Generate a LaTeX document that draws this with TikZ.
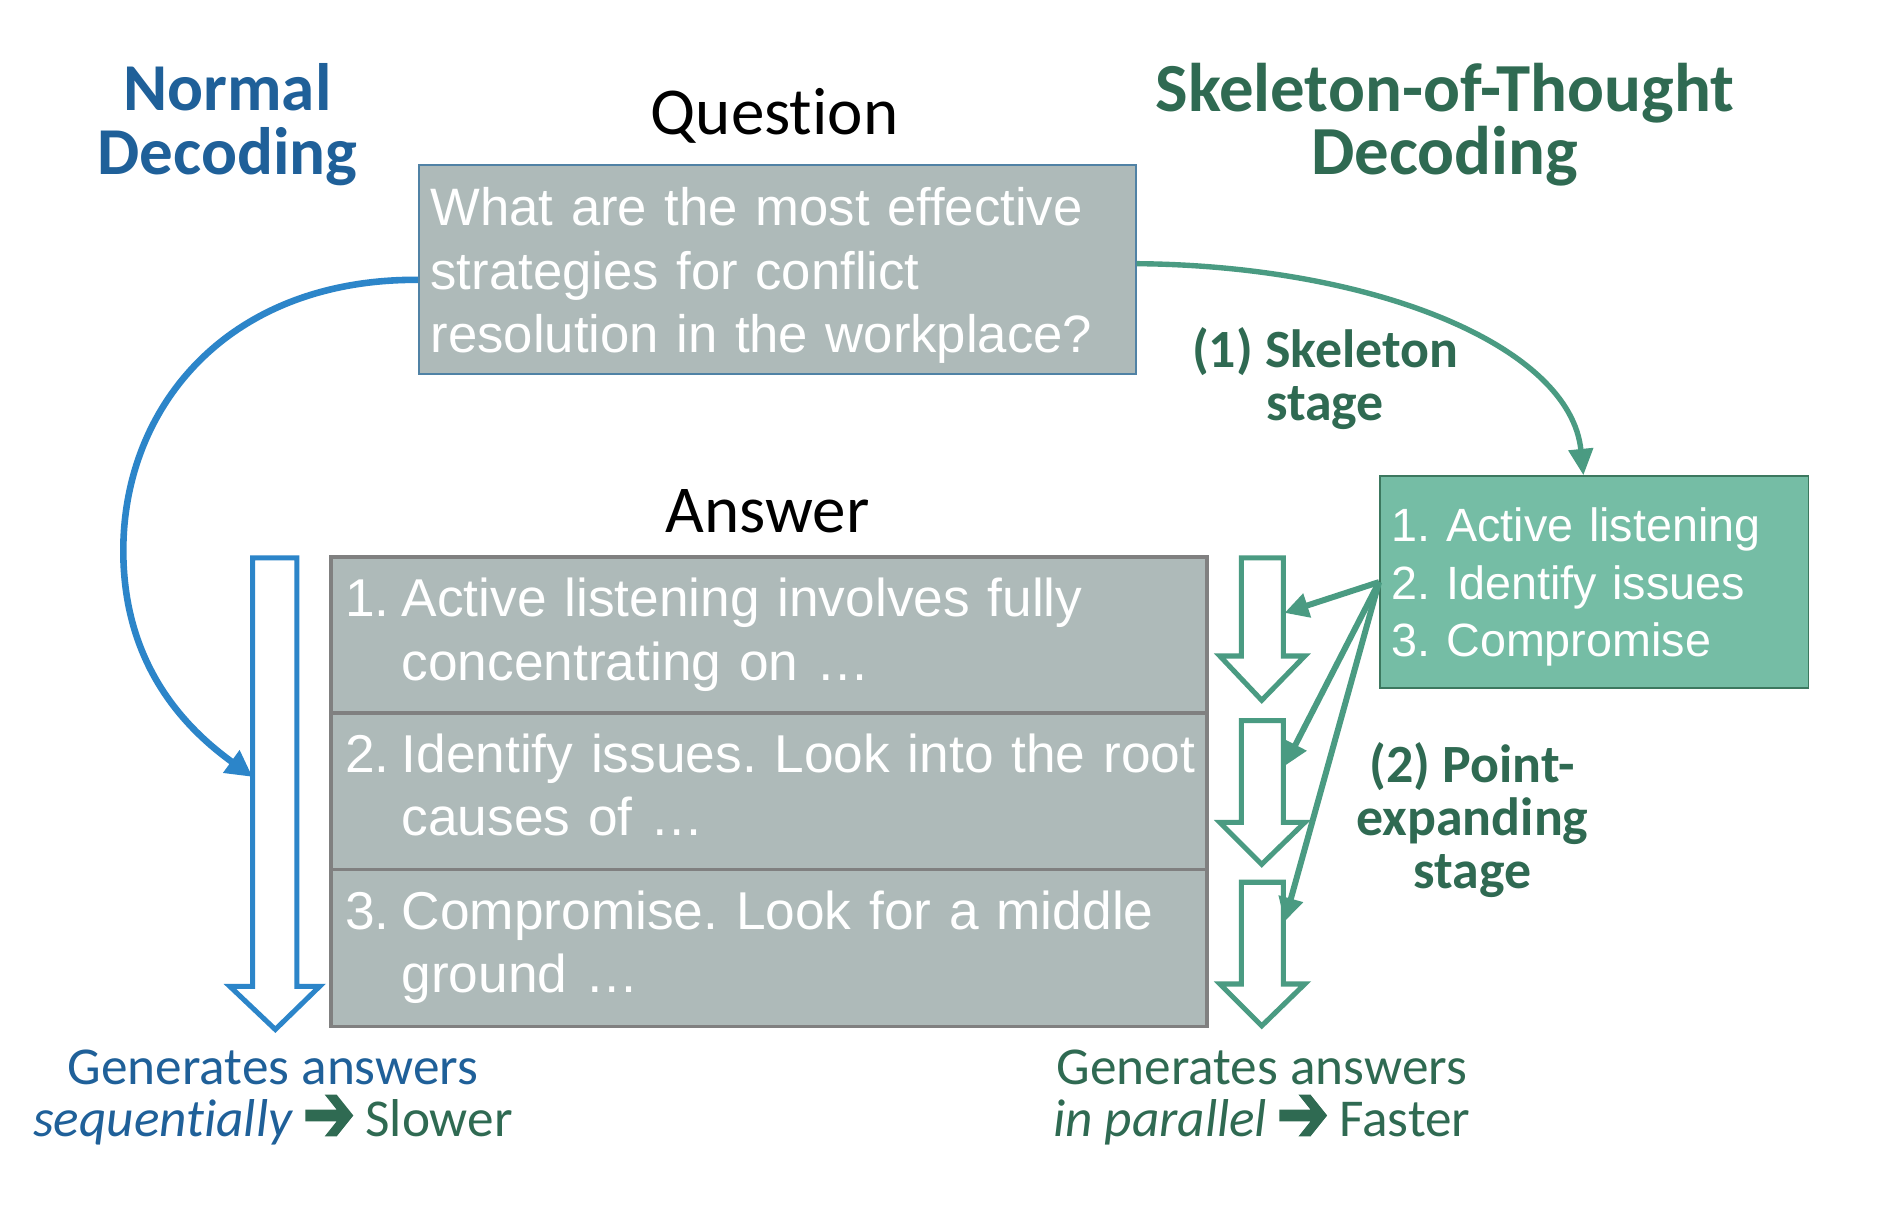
\documentclass[tikz,border=0pt]{standalone}
\usepackage{fontspec}
\setmainfont{Carlito}[Ligatures=NoCommon]
\newfontfamily\arialf{Liberation Sans}
\usetikzlibrary{arrows.meta}
\definecolor{ndblue}{RGB}{31,96,153}
\definecolor{arrblue}{RGB}{44,133,201}
\definecolor{sotgreen}{RGB}{47,106,82}
\definecolor{arrgreen}{RGB}{74,155,130}
\definecolor{skelfill}{RGB}{117,189,165}
\definecolor{skelborder}{RGB}{60,120,95}
\definecolor{boxgray}{RGB}{174,186,185}
\definecolor{qborder}{RGB}{80,130,165}
\definecolor{aborder}{RGB}{128,128,128}
\newsavebox\chevarrow
\newcommand\chevpt[2]{\pgfpoint{#1pt}{#2pt}}
\tikzset{
  heading/.style={font=\fontsize{56}{53}\selectfont\bfseries, align=center},
  titletext/.style={font=\fontsize{56}{60}\selectfont},
  graybox/.style={fill=boxgray, text=white, anchor=north west, inner ysep=0pt, align=left},
  qbox/.style={graybox, draw=qborder, line width=1.5pt, inner xsep=10pt, minimum width=599pt, minimum height=175pt, text width=579pt, font=\arialf\fontsize{44}{53}\selectfont},
  abox/.style={graybox, draw=aborder, line width=3pt, inner xsep=12pt, minimum width=732pt, minimum height=131pt, text width=708pt, font=\arialf\fontsize{44.5}{53}\selectfont},
  skelbox/.style={fill=skelfill, draw=skelborder, line width=1.5pt, text=white, anchor=north west, inner xsep=10pt, inner ysep=0pt, minimum width=358pt, minimum height=177pt, text width=338pt, align=left, font=\arialf\fontsize{39}{48}\selectfont},
  stagelabel/.style={font=\fontsize{45}{44}\selectfont\bfseries, text=sotgreen, align=center},
  bottomlabel/.style={font=\fontsize{44.5}{43}\selectfont, align=center},
  hollowblue/.style={draw=arrblue, fill=white, line width=4.2pt, line join=miter},
  hollowgreen/.style={draw=arrgreen, fill=white, line width=4.2pt, line join=miter},
  bluecurve/.style={draw=arrblue, line width=5.5pt, -{Triangle[length=22pt,width=22pt]}},
  greencurve/.style={draw=arrgreen, line width=4.5pt, -{Triangle[length=22pt,width=20pt]}},
  greenline/.style={draw=arrgreen, line width=5pt, -{Triangle[length=20pt,width=20pt]}},
}
\begin{document}
\frenchspacing
\sbox\chevarrow{\begin{pgfpicture}
  \pgfsetfillcolor{sotgreen}
  \pgfpathmoveto{\chevpt{0}{12.5}}
  \pgfpathlineto{\chevpt{26}{12.5}}
  \pgfpathlineto{\chevpt{16}{0}}
  \pgfpathlineto{\chevpt{26}{0}}
  \pgfpathlineto{\chevpt{40}{17.5}}
  \pgfpathlineto{\chevpt{26}{35}}
  \pgfpathlineto{\chevpt{16}{35}}
  \pgfpathlineto{\chevpt{26}{22.5}}
  \pgfpathlineto{\chevpt{0}{22.5}}
  \pgfpathclose
  \pgfusepath{fill}
\end{pgfpicture}}
\begin{tikzpicture}[x=1pt,y=-1pt]
\useasboundingbox[fill=white] (0,0) rectangle (1568,1015);
% headings
\node[heading, text=ndblue] (nd) at (190,104) {Normal\\Decoding};
\node[heading, text=sotgreen, font=\fontsize{57.5}{53}\selectfont\bfseries] (sot) at (1207,104) {Skeleton-of-Thought\\Decoding};
\node[titletext] (qt) at (647,97) {Question};
\node[titletext] (at) at (641,427) {Answer};
% question box
\node[qbox] (qb) at (349,137) {\rule{0pt}{42pt}What are the most effective\\strategies for conflict\\resolution in the workplace?};
% answer boxes
\node[abox] (a1) at (275,464) {\begin{tabular}{@{}p{47pt}@{}l@{}}1. & Active listening involves fully\\ & concentrating on …\end{tabular}};
\node[abox] (a2) at (275,594) {\begin{tabular}{@{}p{47pt}@{}l@{}}2. & Identify issues. Look into the root\\ & causes of …\end{tabular}};
\node[abox] (a3) at (275,725) {\begin{tabular}{@{}p{47pt}@{}l@{}}3. & Compromise. Look for a middle\\ & ground …\end{tabular}};
% skeleton box
\node[skelbox] (sk) at (1152,397) {\rule{0pt}{37pt}1. Active listening\\2. Identify issues\\3. Compromise};
% stage labels
\node[stagelabel] (s1) at (1107,316) {(1) Skeleton\\stage};
\node[stagelabel] (s2) at (1230,685) {(2) Point-\\expanding\\stage};
% hollow arrows
\draw[hollowblue] (211,466) -- (248,466) -- (248,824) -- (267,824) -- (230,860) -- (192,824) -- (211,824) -- cycle;
\foreach \t/\h/\p in {466/548/585, 602/687/722, 737/822/857}{
  \draw[hollowgreen] (1037,\t) -- (1072,\t) -- (1072,\h) -- (1090,\h) -- (1054,\p) -- (1019,\h) -- (1037,\h) -- cycle;
}
% connector end points
\coordinate (bt) at (211,649);
\coordinate (g1) at (1073,512);
\coordinate (g2) at (1073,640);
\coordinate (g3) at (1073,770);
% connectors
\draw[bluecurve] ([yshift=-8.5pt]qb.west) .. controls (190,233) and (103,340) .. (103,460) .. controls (103,560) and (160,612) .. (bt);
\draw[greencurve] ([yshift=5pt]qb.east) .. controls (1150,222) and (1312,290) .. ([xshift=-9pt]sk.north);
\draw[greenline] (sk.west) -- (g1);
\draw[greenline] (sk.west) -- (g2);
\draw[greenline] (sk.west) -- (g3);
% bottom labels
\node[bottomlabel, text=ndblue] (bl) at (228,917) {Generates answers\\\textit{sequentially} \usebox\chevarrow{} \textcolor{sotgreen}{Slower}};
\node[bottomlabel, text=sotgreen] (br) at (1054,917) {Generates answers\\\textit{in parallel} \usebox\chevarrow{} Faster};
\end{tikzpicture}
\end{document}
